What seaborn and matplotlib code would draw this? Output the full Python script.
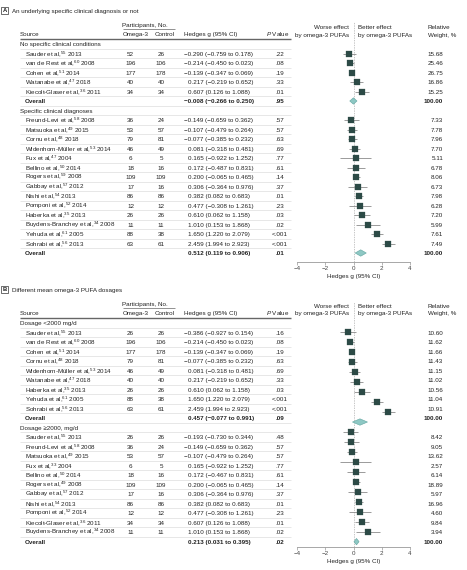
import numpy as np
import pandas as pd
import matplotlib
matplotlib.use('Agg')
import matplotlib.pyplot as plt
import seaborn as sns

sns.set_style('ticks')
plt.rcParams['font.family'] = ['Liberation Sans', 'DejaVu Sans']
plt.rcParams['mathtext.fontset'] = 'custom'
plt.rcParams['mathtext.rm'] = 'Liberation Sans'
plt.rcParams['mathtext.it'] = 'Liberation Sans:italic'
plt.rcParams['mathtext.bf'] = 'Liberation Sans:bold'

# Panel A - group 1: no specific clinical conditions
a1_names = ['Sauder et al,$^{55}$ 2013', 'van de Rest et al,$^{60}$ 2008', 'Cohen et al,$^{51}$ 2014',
            'Watanabe et al,$^{47}$ 2018', 'Kiecolt-Glaser et al,$^{36}$ 2011']
a1_omega = [52, 196, 177, 40, 34]
a1_control = [26, 106, 178, 40, 34]
a1_g = [-0.290, -0.214, -0.139, 0.217, 0.607]
a1_lo = [-0.759, -0.450, -0.347, -0.219, 0.126]
a1_hi = [0.178, 0.023, 0.069, 0.652, 1.088]
a1_p = ['.22', '.08', '.19', '.33', '.01']
a1_w = [15.68, 25.46, 26.75, 16.86, 15.25]
a1_overall = [-0.008, -0.266, 0.250, '.95']

# Panel A - group 2: specific clinical diagnoses
a2_names = ['Freund-Levi et al,$^{58}$ 2008', 'Matsuoka et al,$^{49}$ 2015', 'Cornu et al,$^{48}$ 2018',
            'Widenhorn-Müller et al,$^{53}$ 2014', 'Fux et al,$^{47}$ 2004', 'Bellino et al,$^{50}$ 2014',
            'Rogers et al,$^{59}$ 2008', 'Gabbay et al,$^{57}$ 2012', 'Nishi et al,$^{54}$ 2013',
            'Pomponi et al,$^{52}$ 2014', 'Haberka et al,$^{35}$ 2013', 'Buydens-Branchey et al,$^{34}$ 2008',
            'Yehuda et al,$^{61}$ 2005', 'Sohrabi et al,$^{56}$ 2013']
a2_omega = [36, 53, 79, 46, 6, 18, 109, 17, 86, 12, 26, 11, 88, 63]
a2_control = [24, 57, 81, 49, 5, 16, 109, 16, 86, 12, 26, 11, 38, 61]
a2_g = [-0.149, -0.107, -0.077, 0.081, 0.165, 0.172, 0.200, 0.306, 0.382, 0.477, 0.610, 1.010, 1.650, 2.459]
a2_lo = [-0.659, -0.479, -0.385, -0.318, -0.922, -0.487, -0.065, -0.364, 0.082, -0.308, 0.062, 0.153, 1.220, 1.994]
a2_hi = [0.362, 0.264, 0.232, 0.481, 1.252, 0.831, 0.465, 0.976, 0.683, 1.261, 1.158, 1.868, 2.079, 2.923]
a2_p = ['.57', '.57', '.63', '.69', '.77', '.61', '.14', '.37', '.01', '.23', '.03', '.02', '<.001', '<.001']
a2_w = [7.33, 7.78, 7.96, 7.70, 5.11, 6.78, 8.06, 6.73, 7.98, 6.28, 7.20, 5.99, 7.61, 7.49]
a2_overall = [0.512, 0.119, 0.906, '.01']

# Panel B - group 1: dosage < 2000 mg/d
b1_names = ['Sauder et al,$^{55}$ 2013', 'van de Rest et al,$^{60}$ 2008', 'Cohen et al,$^{51}$ 2014',
            'Cornu et al,$^{48}$ 2018', 'Widenhorn-Müller et al,$^{53}$ 2014', 'Watanabe et al,$^{47}$ 2018',
            'Haberka et al,$^{35}$ 2013', 'Yehuda et al,$^{61}$ 2005', 'Sohrabi et al,$^{56}$ 2013']
b1_omega = [26, 196, 177, 79, 46, 40, 26, 88, 63]
b1_control = [26, 106, 178, 81, 49, 40, 26, 38, 61]
b1_g = [-0.386, -0.214, -0.139, -0.077, 0.081, 0.217, 0.610, 1.650, 2.459]
b1_lo = [-0.927, -0.450, -0.347, -0.385, -0.318, -0.219, 0.062, 1.220, 1.994]
b1_hi = [0.154, 0.023, 0.069, 0.232, 0.481, 0.652, 1.158, 2.079, 2.923]
b1_p = ['.16', '.08', '.19', '.63', '.69', '.33', '.03', '<.001', '<.001']
b1_w = [10.60, 11.62, 11.66, 11.43, 11.15, 11.02, 10.56, 11.04, 10.91]
b1_overall = [0.457, -0.077, 0.991, '.09']

# Panel B - group 2: dosage >= 2000 mg/d
b2_names = ['Sauder et al,$^{55}$ 2013', 'Freund-Levi et al,$^{58}$ 2008', 'Matsuoka et al,$^{49}$ 2015',
            'Fux et al,$^{33}$ 2004', 'Bellino et al,$^{50}$ 2014', 'Rogers et al,$^{49}$ 2008',
            'Gabbay et al,$^{57}$ 2012', 'Nishi et al,$^{54}$ 2013', 'Pomponi et al,$^{52}$ 2014',
            'Kiecolt-Glaser et al,$^{36}$ 2011', 'Buydens-Branchey et al,$^{34}$ 2008']
b2_omega = [26, 36, 53, 6, 18, 109, 17, 86, 12, 34, 11]
b2_control = [26, 24, 57, 5, 16, 109, 16, 86, 12, 34, 11]
b2_g = [-0.193, -0.149, -0.107, 0.165, 0.172, 0.200, 0.306, 0.382, 0.477, 0.607, 1.010]
b2_lo = [-0.730, -0.659, -0.479, -0.922, -0.467, -0.065, -0.364, 0.082, -0.308, 0.126, 0.153]
b2_hi = [0.344, 0.362, 0.264, 1.252, 0.831, 0.465, 0.976, 0.683, 1.261, 1.088, 1.868]
b2_p = ['.48', '.57', '.57', '.77', '.61', '.14', '.37', '.01', '.23', '.01', '.02']
b2_w = [8.42, 9.05, 13.62, 2.57, 6.14, 18.89, 5.97, 16.96, 4.60, 9.84, 3.94]
b2_overall = [0.213, 0.031, 0.395, '.02']

W, H = 467, 570
FS = 4.5
TXT = '#222222'
MARK = '#2c4a46'
DIA_FACE = '#8ec8c4'
DIA_EDGE = '#62a5a0'


def build_rows(groups):
    rows = []
    for gname, names, om, ct, g, lo, hi, p, w, ov in groups:
        rows.append(dict(kind='group', label=gname))
        for i in range(len(names)):
            rows.append(dict(kind='study', label=names[i], omega=om[i], control=ct[i],
                             g=g[i], lo=lo[i], hi=hi[i], p=p[i], w=w[i]))
        rows.append(dict(kind='overall', label='Overall', g=ov[0], lo=ov[1], hi=ov[2], p=ov[3], w=100.0))
    return pd.DataFrame(rows)


def fmt_g(r):
    return f"{r.g:.3f} ({r.lo:.3f} to {r.hi:.3f})".replace('-', '\u2212')


fig = plt.figure(figsize=(W / 100, H / 100), dpi=100)
bg = fig.add_axes([0, 0, 1, 1])
bg.set_xlim(0, W)
bg.set_ylim(H, 0)
bg.axis('off')


def put(x, y, s, ha='left', weight='normal', size=FS, color=TXT):
    bg.text(x, y + 2.2, s, ha=ha, va='baseline', fontsize=size, fontweight=weight, color=color)


def draw_panel(letter, title, df, y0, axis_y, top_y, plot_first=None, plot_step=None):
    step = 9.5
    row0 = y0 + 33.5
    # panel title
    bg.text(4.5, y0, letter, ha='center', va='center', fontsize=4.2, fontweight='bold', color=TXT,
            bbox=dict(boxstyle='square,pad=0.25', fc='white', ec='#333333', lw=0.5))
    put(12, y0, title)
    # column headers
    put(145, y0 + 14, 'Participants, No.', ha='center')
    bg.hlines(y0 + 18.7, 123, 175, color='#666666', lw=0.5)
    put(349, y0 + 16.2, 'Worse effect', ha='right')
    put(349, y0 + 23.8, 'by omega-3 PUFAs', ha='right')
    put(358, y0 + 16.2, 'Better effect')
    put(358, y0 + 23.8, 'by omega-3 PUFAs')
    put(428, y0 + 16.2, 'Relative')
    put(428, y0 + 23.8, 'Weight, %')
    put(20, y0 + 23.5, 'Source')
    put(135.5, y0 + 23.5, 'Omega-3', ha='center')
    put(165, y0 + 23.5, 'Control', ha='center')
    put(184, y0 + 23.5, 'Hedges g (95% CI)')
    put(278, y0 + 23.5, '$P$ Value', ha='center')
    bg.hlines(y0 + 28.5, 20, 291, color='#666666', lw=1.0)

    df = df.copy()
    df['ty'] = row0 + np.arange(len(df)) * step
    # row separators
    bg.hlines(df['ty'].values[:-1] + step / 2, 20, 291, color='#d4d4d4', lw=0.4)

    for r in df.itertuples():
        if r.kind == 'group':
            put(20, r.ty, r.label)
            continue
        bold = 'bold' if r.kind == 'overall' else 'normal'
        put(25, r.ty, r.label, weight=bold)
        if r.kind == 'study':
            put(130.5, r.ty, str(int(r.omega)), ha='center')
            put(161, r.ty, str(int(r.control)), ha='center')
        gx = 184 if r.g < 0 else 188.5
        put(gx, r.ty, fmt_g(r), weight=bold)
        put(280, r.ty, r.p, ha='center', weight=bold)
        put(443, r.ty, f"{r.w:.2f}", ha='right', weight=bold)

    # forest plot
    items = df[df['kind'] != 'group'].copy()
    if plot_step is None:
        items['py'] = items['ty']
    else:
        items['py'] = plot_first + np.arange(len(items)) * plot_step
    fa = fig.add_axes([297 / W, 1 - axis_y / H, 113 / W, (axis_y - top_y) / H])
    fa.patch.set_visible(False)
    fa.axvline(0, color='#b0b0b0', lw=0.5, ls=(0, (2, 1.5)), zorder=1)
    st = items[items['kind'] == 'study']
    fa.hlines(st['py'], st['lo'], st['hi'], color='#8a8a8a', lw=0.6, zorder=2)
    sns.scatterplot(data=st, x='g', y='py', marker='s', s=13, color=MARK, edgecolor=MARK,
                    linewidth=0.2, ax=fa, legend=False, zorder=3)
    for r in items[items['kind'] == 'overall'].itertuples():
        fa.fill([r.lo, r.g, r.hi, r.g], [r.py, r.py - 3.2, r.py, r.py + 3.2],
                facecolor=DIA_FACE, edgecolor=DIA_EDGE, lw=0.4, zorder=3)
    fa.set_xlim(-4, 4)
    fa.set_ylim(axis_y, top_y)
    fa.set_yticks([])
    fa.set_ylabel('')
    fa.set_xticks([-4, -2, 0, 2, 4])
    fa.tick_params(axis='x', length=2, width=0.5, color='#999999', labelsize=FS,
                   labelcolor='#444444', pad=1.2)
    for side in ['top', 'right', 'left']:
        fa.spines[side].set_visible(False)
    fa.spines['bottom'].set_color('#999999')
    fa.spines['bottom'].set_linewidth(0.6)
    fa.set_xlabel('Hedges g (95% CI)', fontsize=FS, color=TXT, labelpad=1.5)


df_a = build_rows([
    ('No specific clinical conditions', a1_names, a1_omega, a1_control, a1_g, a1_lo, a1_hi, a1_p, a1_w, a1_overall),
    ('Specific clinical diagnoses', a2_names, a2_omega, a2_control, a2_g, a2_lo, a2_hi, a2_p, a2_w, a2_overall),
])
df_b = build_rows([
    ('Dosage <2000 mg/d', b1_names, b1_omega, b1_control, b1_g, b1_lo, b1_hi, b1_p, b1_w, b1_overall),
    ('Dosage \u22652000, mg/d', b2_names, b2_omega, b2_control, b2_g, b2_lo, b2_hi, b2_p, b2_w, b2_overall),
])

draw_panel('A', 'An underlying specific clinical diagnosis or not', df_a, 10.5, 262, 22)
draw_panel('B', 'Different mean omega-3 PUFA dosages', df_b, 289.5, 547, 302,
           plot_first=332.3, plot_step=9.97)

fig.savefig('out.png', dpi=100)
